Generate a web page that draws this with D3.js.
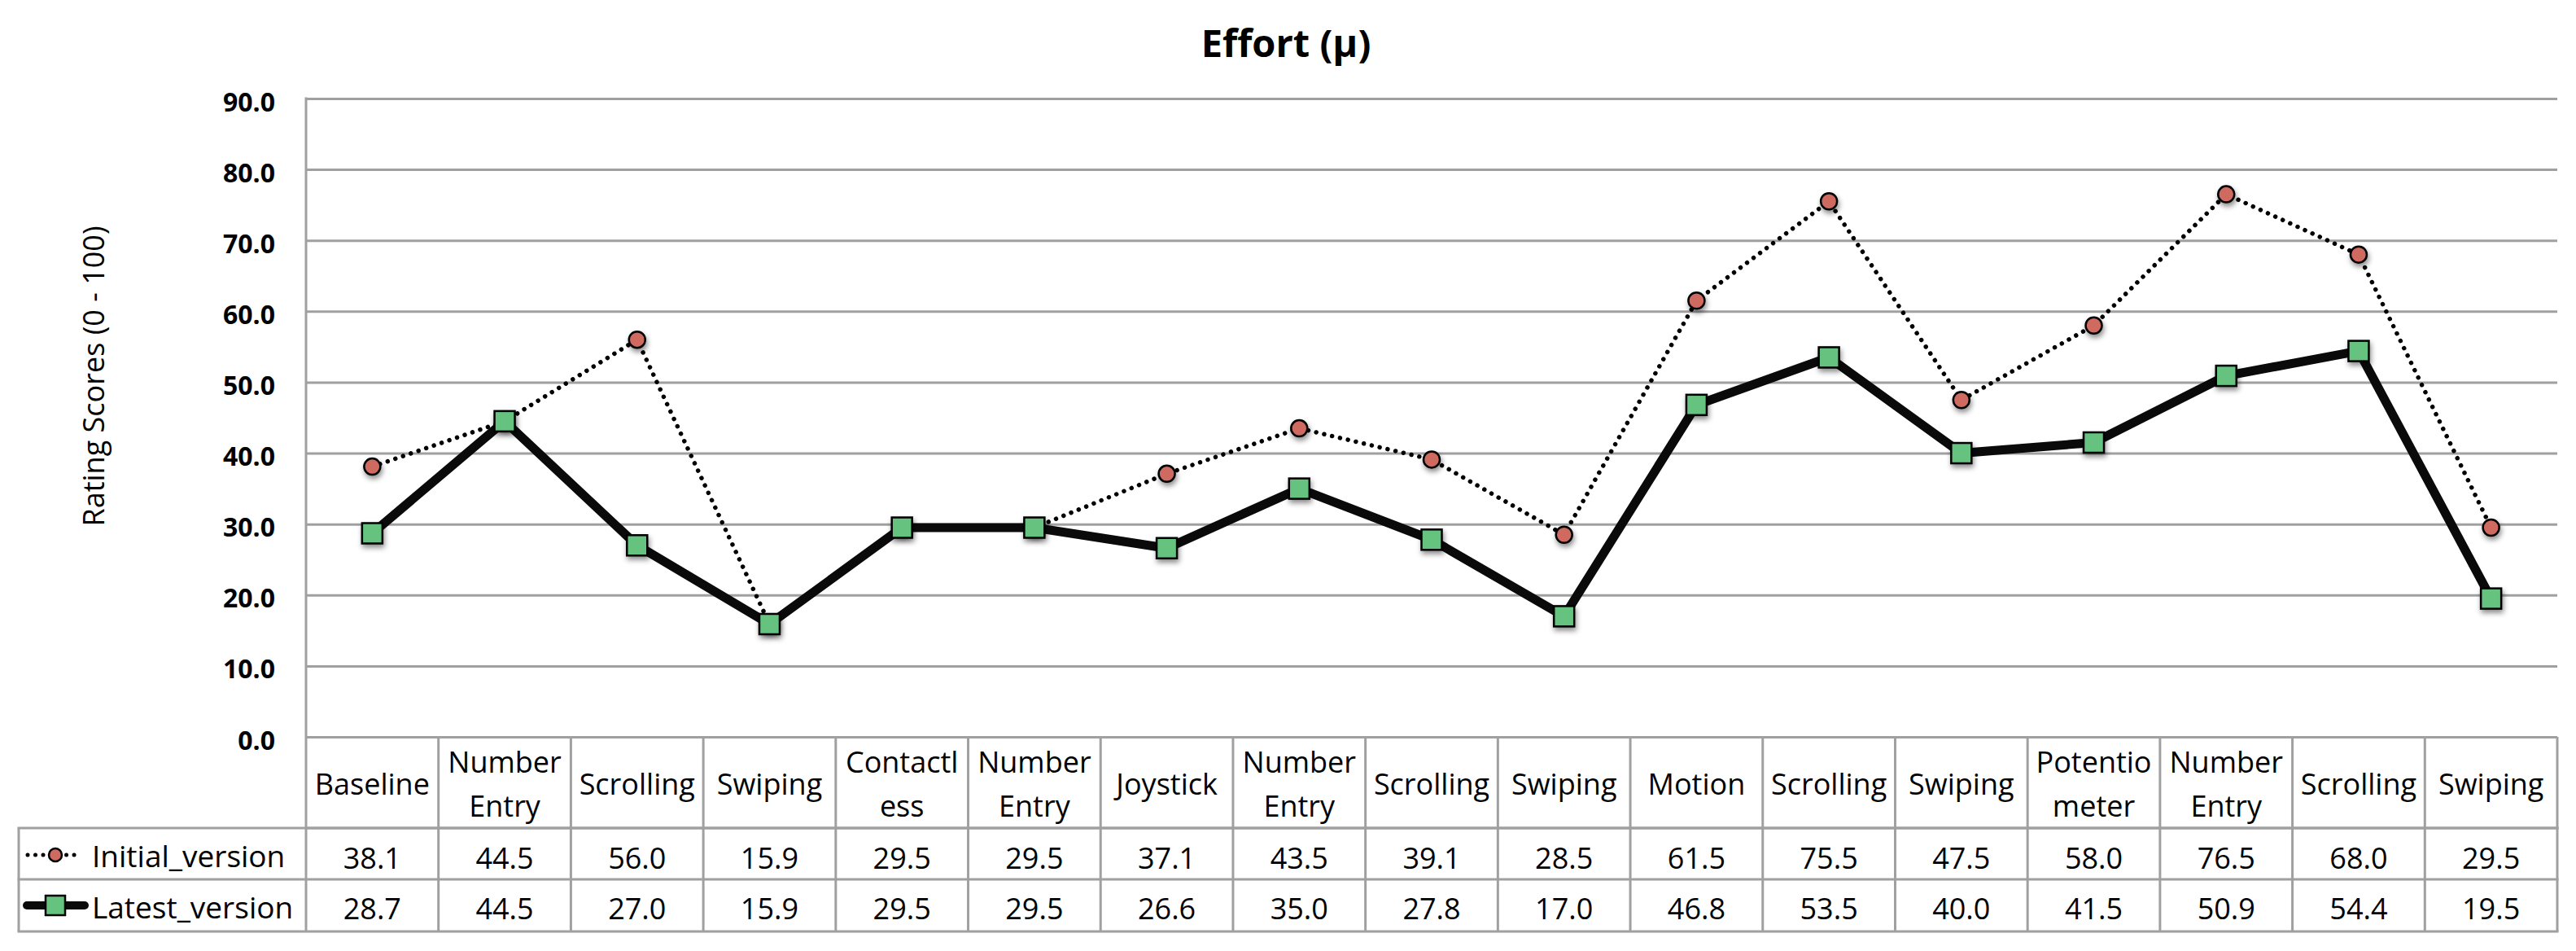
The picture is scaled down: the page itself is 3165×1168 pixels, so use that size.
<!DOCTYPE html>
<html><head><meta charset="utf-8">
<script src="https://cdn.jsdelivr.net/npm/d3@7"></script>
<style>html,body{margin:0;padding:0;background:#fff;} svg{display:block;font-family:"Open Sans",sans-serif;}</style>
</head><body><svg id="chart" width="3165" height="1168"></svg>
<script>
const categories = ["Baseline","Number\nEntry","Scrolling","Swiping","Contactl\ness","Number\nEntry","Joystick","Number\nEntry","Scrolling","Swiping","Motion","Scrolling","Swiping","Potentio\nmeter","Number\nEntry","Scrolling","Swiping"];
const initialVersion = [38.1,44.5,56.0,15.9,29.5,29.5,37.1,43.5,39.1,28.5,61.5,75.5,47.5,58.0,76.5,68.0,29.5];
const latestVersion = [28.7,44.5,27.0,15.9,29.5,29.5,26.6,35.0,27.8,17.0,46.8,53.5,40.0,41.5,50.9,54.4,19.5];
const seriesNames = ["Initial_version","Latest_version"];
const yTicks = [0,10,20,30,40,50,60,70,80,90];
const chartTitle = "Effort (μ)";
const yAxisTitle = "Rating Scores (0 - 100)";

const plot={left:376,right:3142,top:121,bottom:905};
const tbl={legendLeft:23, headerBottom:1017, row1Bottom:1080, row2Bottom:1144};
const grid="#a0a0a0";
const fmt=d3.format(".1f");

const svg=d3.select("#chart");
svg.append("rect").attr("width",3165).attr("height",1168).attr("fill","#fff");
const defs=svg.append("defs");
const f=defs.append("filter").attr("id","shadow").attr("x","-60%").attr("y","-60%").attr("width","220%").attr("height","220%");
f.append("feDropShadow").attr("dx",1.5).attr("dy",4).attr("stdDeviation",3).attr("flood-color","#000").attr("flood-opacity",0.45);

const x=d3.scaleBand().domain(d3.range(categories.length)).range([plot.left,plot.right]).padding(0);
const y=d3.scaleLinear().domain([0,90]).range([plot.bottom,plot.top]);
const cx=i=>x(i)+x.bandwidth()/2;

// title
svg.append("text").attr("x",1580).attr("y",70).attr("text-anchor","middle")
  .attr("font-weight","bold").attr("font-size",47).attr("fill","#000").text(chartTitle);

// y axis title
svg.append("text").attr("transform",`translate(128,462) rotate(-90)`).attr("text-anchor","middle")
  .attr("font-size",36).attr("fill","#000").text(yAxisTitle);

// y axis + gridlines
const yAxis=svg.append("g").attr("transform",`translate(${plot.left},0)`)
  .call(d3.axisLeft(y).tickValues(yTicks).tickFormat(fmt).tickSize(-(plot.right-plot.left)).tickPadding(38));
yAxis.select(".domain").remove();
yAxis.selectAll(".tick line").attr("stroke",grid).attr("stroke-width",3);
yAxis.selectAll(".tick text").attr("font-family","Open Sans").attr("font-weight","bold")
  .attr("font-size",32).attr("fill","#000").attr("dy","0.47em");

svg.append("line").attr("x1",plot.left).attr("x2",plot.left).attr("y1",plot.top-1.5).attr("y2",plot.bottom)
  .attr("stroke",grid).attr("stroke-width",3);

// data table grid
const tg=svg.append("g").attr("stroke",grid).attr("stroke-width",3);
[[plot.left,tbl.headerBottom],[tbl.legendLeft,tbl.headerBottom],[tbl.legendLeft,tbl.row1Bottom],[tbl.legendLeft,tbl.row2Bottom]].forEach(([x0,yy])=>{
  tg.append("line").attr("x1",x0-1.5).attr("x2",plot.right+1.5).attr("y1",yy).attr("y2",yy);
});
const bounds=d3.range(categories.length).map(i=>x(i)).concat([plot.right]);
tg.selectAll("line.v").data(bounds).join("line").attr("class","v")
  .attr("x1",d=>d).attr("x2",d=>d).attr("y1",plot.bottom).attr("y2",tbl.row2Bottom);
tg.append("line").attr("x1",tbl.legendLeft).attr("x2",tbl.legendLeft).attr("y1",tbl.headerBottom).attr("y2",tbl.row2Bottom);

// header labels
const hdr=svg.append("g").attr("font-size",36).attr("fill","#000").attr("text-anchor","middle");
categories.forEach((c,i)=>{
  const lines=c.split("\n");
  const base= lines.length===1 ? [976] : [949,1003];
  lines.forEach((t,k)=>hdr.append("text").attr("x",cx(i)).attr("y",base[k]).text(t));
});

// values
const vals=svg.append("g").attr("font-size",36).attr("fill","#000").attr("text-anchor","middle");
[[initialVersion,1067],[latestVersion,1129]].forEach(([arr,by])=>{
  vals.selectAll(null).data(arr).join("text").attr("x",(d,i)=>cx(i)).attr("y",by).text(d=>fmt(d));
});

// legend labels
const lg=svg.append("g").attr("font-size",37).attr("fill","#000");
lg.append("text").attr("x",113).attr("y",1065).text(seriesNames[0]);
lg.append("text").attr("x",113).attr("y",1128).text(seriesNames[1]);

// legend icons
lg.append("line").attr("x1",34).attr("x2",100).attr("y1",1050).attr("y2",1050)
  .attr("stroke","#000").attr("stroke-width",5).attr("stroke-linecap","round").attr("stroke-dasharray","0.01 9.5");
lg.append("circle").attr("cx",68).attr("cy",1050).attr("r",8).attr("fill","#cf6a61").attr("stroke","#000").attr("stroke-width",2.5);
lg.append("line").attr("x1",33).attr("x2",104).attr("y1",1112).attr("y2",1112)
  .attr("stroke","#0a0a0a").attr("stroke-width",10).attr("stroke-linecap","round");
lg.append("rect").attr("x",68-12).attr("y",1112-12).attr("width",24).attr("height",24).attr("fill","#65c27f").attr("stroke","#000").attr("stroke-width",2.5);

// series
const line=d3.line().x((d,i)=>cx(i)).y(d=>y(d));
svg.append("path").datum(initialVersion).attr("d",line).attr("fill","none").attr("stroke","#000")
  .attr("stroke-width",5.5).attr("stroke-linecap","round").attr("stroke-dasharray","0.01 10");
svg.append("g").selectAll("circle").data(initialVersion).join("circle")
  .attr("cx",(d,i)=>cx(i)).attr("cy",d=>y(d)).attr("r",10)
  .attr("fill","#cf6a61").attr("stroke","#000").attr("stroke-width",2.5).attr("filter","url(#shadow)");
svg.append("path").datum(latestVersion).attr("d",line).attr("fill","none").attr("stroke","#0a0a0a")
  .attr("stroke-width",11).attr("stroke-linejoin","miter");
svg.append("g").selectAll("rect").data(latestVersion).join("rect")
  .attr("x",(d,i)=>cx(i)-12.5).attr("y",d=>y(d)-12.5).attr("width",25).attr("height",25)
  .attr("fill","#65c27f").attr("stroke","#000").attr("stroke-width",2.5).attr("filter","url(#shadow)");
</script></body></html>
